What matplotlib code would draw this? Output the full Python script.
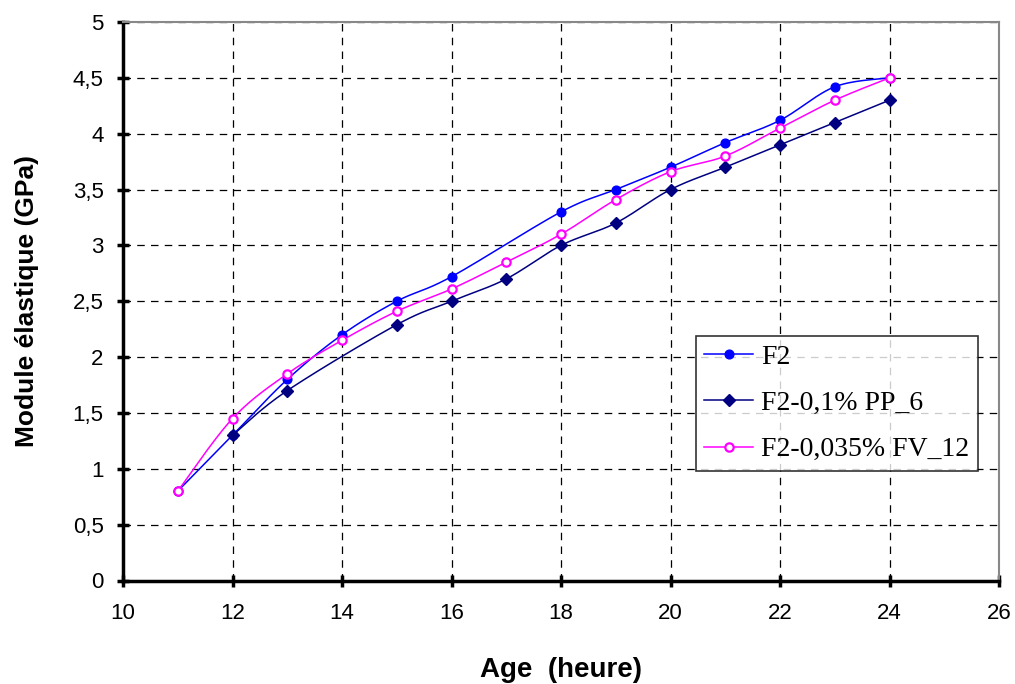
import matplotlib.pyplot as plt
from matplotlib.ticker import FuncFormatter
import numpy as np

plt.rcParams.update({
    'font.family': 'Liberation Sans',
    'font.size': 16,
})

# data
age_f2 = [11, 12, 13, 14, 15, 16, 18, 19, 20, 21, 22, 23, 24]
mod_f2 = [0.8, 1.3, 1.8, 2.2, 2.5, 2.72, 3.3, 3.5, 3.7, 3.92, 4.12, 4.42, 4.5]

age_pp = [12, 13, 15, 16, 17, 18, 19, 20, 21, 22, 23, 24]
mod_pp = [1.3, 1.7, 2.29, 2.5, 2.7, 3.0, 3.2, 3.5, 3.7, 3.9, 4.1, 4.3]

age_fv = [11, 12, 13, 14, 15, 16, 17, 18, 19, 20, 21, 22, 23, 24]
mod_fv = [0.8, 1.45, 1.85, 2.15, 2.41, 2.61, 2.85, 3.1, 3.41, 3.66, 3.8, 4.05, 4.3, 4.5]

labels = ['F2', 'F2-0,1% PP_6', 'F2-0,035% FV_12']


def smooth(xs, ys, n=30):
    # Excel-like smoothed line (Catmull-Rom as cubic Bezier)
    x = np.asarray(xs, float)
    y = np.asarray(ys, float)
    px = np.concatenate([[x[0]], x, [x[-1]]])
    py = np.concatenate([[y[0]], y, [y[-1]]])
    t = np.linspace(0, 1, n)
    ox, oy = [], []
    for i in range(1, len(px) - 2):
        p0 = np.array([px[i], py[i]])
        p3 = np.array([px[i + 1], py[i + 1]])
        p1 = p0 + (np.array([px[i + 1], py[i + 1]]) - np.array([px[i - 1], py[i - 1]])) / 6
        p2 = p3 - (np.array([px[i + 2], py[i + 2]]) - np.array([px[i], py[i]])) / 6
        b = ((1 - t) ** 3)[:, None] * p0 + (3 * (1 - t) ** 2 * t)[:, None] * p1 \
            + (3 * (1 - t) * t ** 2)[:, None] * p2 + (t ** 3)[:, None] * p3
        ox.extend(b[:, 0])
        oy.extend(b[:, 1])
    return ox, oy


fig = plt.figure(figsize=(10.15, 6.84), dpi=100)
ax = fig.add_axes([123 / 1015, 1 - 580.5 / 684, 876 / 1015, 558.5 / 684])

series = [
    (age_f2, mod_f2, '#0000FF', dict(marker='o', mfc='#0000FF', mec='#0000FF', ms=6.3)),
    (age_pp, mod_pp, '#000080', dict(marker='D', mfc='#000080', mec='#000080', ms=6.5)),
    (age_fv, mod_fv, '#FF00FF', dict(marker='o', mfc='white', mec='#FF00FF', ms=6, mew=1.6)),
]
for (xs, ys, c, mk), lab in zip(series, labels):
    sx, sy = smooth(xs, ys)
    ax.plot(sx, sy, color=c, lw=1.1, zorder=3)
    ax.plot(xs, ys, ls='none', zorder=4, **mk)
    ax.plot([], [], color=c, lw=1.1, label=lab, **mk)

ax.set_xlim(10, 26)
ax.set_ylim(0, 5)
ax.set_xticks(np.arange(10, 27, 2))
ax.set_yticks(np.arange(0, 5.01, 0.5))
ax.yaxis.set_major_formatter(FuncFormatter(lambda v, p: f'{v:g}'.replace('.', ',')))
ax.grid(True, color='black', ls=(0, (6, 5)), lw=0.9)
ax.set_axisbelow(True)

for s in ['left', 'bottom']:
    ax.spines[s].set_linewidth(2.5)
    ax.spines[s].set_color('black')
for s in ['top', 'right']:
    ax.spines[s].set_linewidth(1.5)
    ax.spines[s].set_color('#888888')
ax.tick_params(direction='inout', length=8, width=2.5, labelsize=16)
ax.tick_params(axis='x', pad=12)
ax.tick_params(axis='y', pad=10)

ax.set_xlabel('Age  (heure)', fontsize=20, fontweight='bold')
ax.set_ylabel('Module élastique (GPa)', fontsize=19, fontweight='bold')
ax.xaxis.set_label_coords(0.5, -(670 - 580.5) / 558.5)
ax.yaxis.set_label_coords(-(123 - 27) / 876, 0.5)
ax.xaxis.label.set_va('center')
ax.yaxis.label.set_va('center')

leg = ax.legend(loc='upper left', bbox_to_anchor=(573 / 876, 1 - (336 - 22) / 558.5),
                prop={'family': 'Liberation Serif', 'size': 20}, frameon=True,
                fancybox=False, edgecolor='black', borderpad=0.3, labelspacing=0.75,
                handlelength=1.75, handletextpad=0.3, borderaxespad=0)
leg.get_frame().set_linewidth(1.2)
leg.set_zorder(5)

plt.savefig('out.png', dpi=100)
